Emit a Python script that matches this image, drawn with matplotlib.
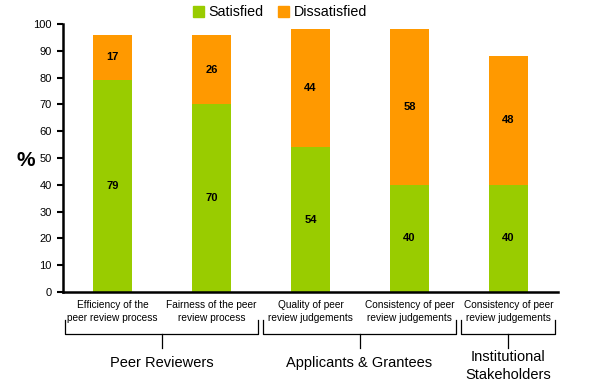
import matplotlib
matplotlib.use("Agg")
import matplotlib.pyplot as plt
import matplotlib.transforms as mtransforms
from matplotlib.patches import Patch

plt.rcParams['font.family'] = ['Liberation Sans', 'DejaVu Sans']

categories = ["Efficiency of the\npeer review process", "Fairness of the peer\nreview process",
              "Quality of peer\nreview judgements", "Consistency of peer\nreview judgements",
              "Consistency of peer\nreview judgements"]
satisfied = [79, 70, 54, 40, 40]
dissatisfied = [17, 26, 44, 58, 48]
groups = ["Peer Reviewers", "Applicants & Grantees", "Institutional\nStakeholders"]
group_spans = [(0, 1), (2, 3), (4, 4)]

green = "#99CC00"
orange = "#FF9900"

W, H = 595, 387
fig = plt.figure(figsize=(W/100, H/100), dpi=100)
ax = fig.add_axes([63/W, 1-292/H, (558-63)/W, (292-24)/H])

x = list(range(len(categories)))
ax.bar(x, satisfied, width=0.40, color=green)
ax.bar(x, dissatisfied, width=0.40, bottom=satisfied, color=orange)
for i in x:
    ax.text(i, satisfied[i]/2, str(satisfied[i]), ha='center', va='center', fontsize=8, fontweight='bold')
    ax.text(i, satisfied[i] + dissatisfied[i]/2, str(dissatisfied[i]), ha='center', va='center', fontsize=8, fontweight='bold')

ax.set_xlim(-0.5, 4.5)
ax.set_ylim(0, 100)
ax.set_yticks(range(0, 101, 10))
ax.tick_params(axis='y', labelsize=8, length=4, width=1.5, direction='out', pad=4)
ax.set_xticks(x)
ax.set_xticklabels(categories, fontsize=7.3, linespacing=1.3)
ax.tick_params(axis='x', length=0, pad=6)
for s in ['top', 'right']:
    ax.spines[s].set_visible(False)
for s in ['left', 'bottom']:
    ax.spines[s].set_linewidth(1.8)

fig.text(26/W, 1-161/H, "%", fontsize=15, fontweight='bold', ha='center', va='center')

# brackets
tr = mtransforms.blended_transform_factory(ax.transData, fig.transFigure)
def fy(px):
    return 1 - px/H
for (a, b), g in zip(group_spans, groups):
    x0 = a - 0.48
    x1 = b + 0.47
    xc = (x0 + x1) / 2
    ax.plot([x0, x0, x1, x1], [fy(320), fy(334), fy(334), fy(320)], color='black', lw=0.9,
            transform=tr, clip_on=False)
    ax.plot([xc, xc], [fy(334), fy(348)], color='black', lw=0.9, transform=tr, clip_on=False)
    if "\n" in g:
        ax.text(xc, fy(366), g, ha='center', va='center', fontsize=10.5, transform=tr, linespacing=1.3)
    else:
        ax.text(xc, fy(363), g, ha='center', va='center', fontsize=10.5, transform=tr)

handles = [Patch(color=green, label="Satisfied"), Patch(color=orange, label="Dissatisfied")]
fig.legend(handles=handles, loc='center', bbox_to_anchor=(280/W, 1-12/H), ncol=2, frameon=False,
           fontsize=10.3, handlelength=0.8, handleheight=0.8, handletextpad=0.3, columnspacing=1.0)

fig.savefig("out.png", dpi=100)
